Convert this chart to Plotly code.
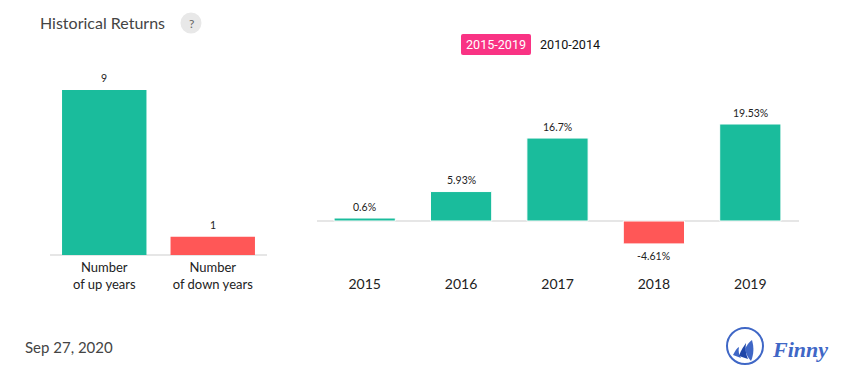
import plotly.graph_objects as go

W, H = 855, 382

count_labels = ["Number<br>of up years", "Number<br>of down years"]
count_values = [9, 1]
count_text = ["9", "1"]

years = ["2015", "2016", "2017", "2018", "2019"]
returns = [0.6, 5.93, 16.7, -4.61, 19.53]
returns_text = ["0.6%", "5.93%", "16.7%", "-4.61%", "19.53%"]

GREEN, RED = "#1abc9c", "#ff5757"
INK = "#444444"
BLUE = "#3f67c6"


def px_x(x):
    return x / W


def px_y(y):
    return 1 - y / H


def path_paper(path):
    out = []
    is_x = True
    for t in path.split():
        if t.isalpha():
            out.append(t)
            is_x = True
        else:
            v = float(t)
            out.append(f"{px_x(v):.5f}" if is_x else f"{px_y(v):.5f}")
            is_x = not is_x
    return " ".join(out)


fig = go.Figure()
fig.add_trace(go.Bar(
    x=count_labels, y=count_values, width=0.778, xaxis="x", yaxis="y",
    marker=dict(color=[GREEN, RED], line=dict(width=0)), hoverinfo="skip",
))
fig.add_trace(go.Bar(
    x=years, y=returns, width=0.635, xaxis="x2", yaxis="y2",
    marker=dict(color=[GREEN if v >= 0 else RED for v in returns],
                line=dict(color="white", width=1)), hoverinfo="skip",
))

shapes = [
    dict(type="circle", xref="paper", yref="paper",
         x0=px_x(180.5), x1=px_x(201.5), y0=px_y(33.5), y1=px_y(12.5),
         fillcolor="#e8e8e8", line=dict(width=0)),
    dict(type="path", xref="paper", yref="paper", fillcolor="#f93384", line=dict(width=0),
         path=path_paper("M 463 34 L 529 34 Q 531 34 531 36 L 531 53 Q 531 55 529 55 "
                         "L 463 55 Q 461 55 461 53 L 461 36 Q 461 34 463 34 Z")),
    dict(type="circle", xref="paper", yref="paper",
         x0=px_x(727), x1=px_x(763), y0=px_y(364), y1=px_y(328),
         fillcolor="white", line=dict(color=BLUE, width=2)),
]
for p, c in [
    ("M 733 355 C 735 351 737 348 739 347 C 738 351 739 355 741 358 Z", BLUE),
    ("M 739 356 C 741 350 744 346 746 343 C 745 349 746 354 748 359 Z", "#1f46a8"),
    ("M 745 349 C 747 345 749 342 752 340 C 754 347 754 354 751 361 C 748 358 746 354 745 349 Z", BLUE),
]:
    shapes.append(dict(type="path", xref="paper", yref="paper",
                       path=path_paper(p), fillcolor=c, line=dict(width=0)))


def note(x, y, text, size, color, family="Lato", anchor="left"):
    return dict(xref="paper", yref="paper", x=px_x(x), y=px_y(y), text=text,
                showarrow=False, xanchor=anchor, yanchor="middle",
                font=dict(family=family, size=size, color=color))


def value_label(xref, yref, x, y, text):
    return dict(xref=xref, yref=yref, x=x, y=y, text=text, showarrow=False,
                xanchor="center", yanchor="middle", yshift=11.5 if y >= 0 else -12,
                font=dict(family="Lato", size=10.5, color="#222222"))


annotations = [
    note(38, 22.5, "Historical Returns", 16, INK),
    note(191, 23.5, "?", 12, "#666666", anchor="center"),
    note(496, 44.5, "2015-2019", 12.6, "white", family="Roboto", anchor="center"),
    note(570, 44.5, "2010-2014", 12.6, "#111111", family="Roboto", anchor="center"),
    note(23, 347, "Sep 27, 2020", 15, INK),
    note(770, 349, "<b><i>Finny</i></b>", 22, BLUE, family="Liberation Serif"),
]
annotations += [value_label("x", "y", i, b, c)
                for i, (b, c) in enumerate(zip(count_values, count_text))]
annotations += [value_label("x2", "y2", i, b, c)
                for i, (b, c) in enumerate(zip(returns, returns_text))]

fig.update_layout(
    width=W, height=H, autosize=False,
    margin=dict(l=0, r=0, t=0, b=0),
    paper_bgcolor="white", plot_bgcolor="rgba(0,0,0,0)",
    showlegend=False,
    shapes=shapes, annotations=annotations,
    xaxis=dict(type="category", domain=[px_x(50), px_x(267)], anchor="y", showgrid=False,
               showline=False, zeroline=False, ticks="", fixedrange=True, ticklabelstandoff=3,
               tickfont=dict(family="Lato", size=13, color="#222222")),
    yaxis=dict(domain=[px_y(255), px_y(90)], anchor="x", range=[0, 9], showgrid=False,
               showticklabels=False, zeroline=True, zerolinecolor="#e6e6e6", zerolinewidth=2,
               showline=False, fixedrange=True),
    xaxis2=dict(type="category", domain=[px_x(316.5), px_x(798.5)], anchor="y2", showgrid=False,
                showline=False, zeroline=False, ticks="", fixedrange=True,
                tickfont=dict(family="Lato", size=14, color="#222222")),
    yaxis2=dict(domain=[px_y(274), px_y(124)], anchor="x2",
                range=[-(274 - 221) / (97 / 19.53), 19.53], showgrid=False,
                showticklabels=False, zeroline=True, zerolinecolor="#e6e6e6", zerolinewidth=2,
                showline=False, fixedrange=True),
)

fig.write_html("out.html", config={"displayModeBar": False},
               post_script="document.body.style.margin='0';document.body.style.overflow='hidden';")
